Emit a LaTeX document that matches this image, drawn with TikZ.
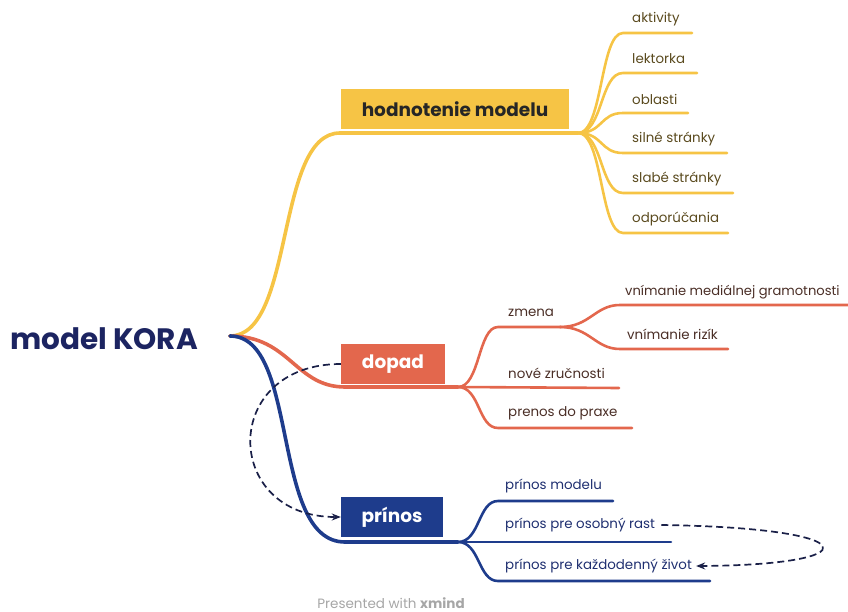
\documentclass[tikz,border=0pt]{standalone}
\usepackage{fontspec}
\setmainfont{Poppins}
\usetikzlibrary{arrows.meta}
\definecolor{ylw}{HTML}{F6C445}
\definecolor{org}{HTML}{E3674D}
\definecolor{nvy}{HTML}{1E3C8C}
\definecolor{rootc}{HTML}{1C2461}
\definecolor{ytext}{HTML}{5A4A1E}
\definecolor{otext}{HTML}{4A2E26}
\definecolor{btext}{HTML}{1F2F70}
\definecolor{dashc}{HTML}{1A2048}
\begin{document}
\begin{tikzpicture}[x=1pt,y=-1pt,
  leaf/.style={anchor=west,inner sep=0pt,yshift=-2pt,font=\fontsize{13.4}{16}\selectfont},
  mainbr/.style={line width=3.6pt,line cap=round},
  leafbr/.style={line width=2.6pt,line cap=round},
  topicbox/.style={inner sep=0pt,minimum height=40pt,font=\fontsize{18.5}{22}\selectfont\bfseries},
  relarrow/.style={dashc,line width=1.7pt,dashed,dash pattern=on 7pt off 4pt,-{Stealth[length=9pt,width=7pt]}}
]
\useasboundingbox (0,0) rectangle (848,612);

% root
\node[text=rootc,font=\fontsize{29.5}{34}\selectfont\bfseries] (root) at (104,339) {model KORA};
\coordinate (r) at (230,336);

% main topic boxes
\node[topicbox,fill=ylw,text=black!85,minimum width=228pt] (hod) at (455,109) {hodnotenie modelu};
\node[topicbox,fill=org,text=white,minimum width=104pt] (dop) at (393,364) {dopad};
\node[topicbox,fill=nvy,text=white,minimum width=102pt] (pri) at (392,517) {prínos};

\coordinate (hy) at (578,133);
\coordinate (oy) at (458,387);
\coordinate (by) at (458,542);

% main branches
\draw[ylw,mainbr] (r) .. controls (295,336) and (275,133) .. (340,133) -- (hy);
\draw[org,mainbr] (r) .. controls (290,336) and (295,387) .. (345,387) -- (oy);
\draw[nvy,mainbr] (r) .. controls (300,336) and (270,542) .. (345,542) -- (by);

% yellow leaves
\node[leaf,text=ytext] (a1) at (632,17) {aktivity};
\node[leaf,text=ytext] (a2) at (632,57) {lektorka};
\node[leaf,text=ytext] (a3) at (632,97) {oblasti};
\node[leaf,text=ytext] (a4) at (632,137) {silné stránky};
\node[leaf,text=ytext] (a5) at (632,177) {slabé stránky};
\node[leaf,text=ytext] (a6) at (632,217) {odporúčania};
\foreach \n/\y/\e in {a1/33/692,a2/73/697,a3/113/688,a4/153/727,a5/193/733,a6/233/728}{
  \coordinate (\n e) at (\e,\y);
  \draw[ylw,leafbr] (hy) .. controls (603,133) and (600,\y) .. (623,\y) -- (\n e);
}

% orange leaves
\node[leaf,text=otext] (zm) at (508,311) {zmena};
\node[leaf,text=otext] (nz) at (508,371) {nové zručnosti};
\node[leaf,text=otext] (pp) at (508,411) {prenos do praxe};
\node[leaf,text=otext,font=\fontsize{13.1}{16}\selectfont] (vm) at (625,290) {vnímanie mediálnej gramotnosti};
\node[leaf,text=otext] (vr) at (627,332) {vnímanie rizík};
\coordinate (zme) at (560,327);
\draw[org,leafbr] (oy) .. controls (480,387) and (478,327) .. (498,327) -- (zme);
\draw[org,leafbr] (oy) -- (619,388);
\draw[org,leafbr] (oy) .. controls (480,387) and (478,428) .. (498,428) -- (632,428);
\draw[org,leafbr] (zme) .. controls (590,327) and (595,305) .. (620,305) -- (848,305);
\draw[org,leafbr] (zme) .. controls (590,327) and (595,349) .. (620,349) -- (728,349);

% blue leaves
\node[leaf,text=btext] (pm) at (505,484) {prínos modelu};
\node[leaf,text=btext] (po) at (505,523) {prínos pre osobný rast};
\node[leaf,text=btext] (pk) at (505,564) {prínos pre každodenný život};
\draw[nvy,leafbr] (by) .. controls (480,542) and (478,501) .. (498,501) -- (613,501);
\draw[nvy,leafbr] (by) -- (671,542);
\draw[nvy,leafbr] (by) .. controls (480,542) and (478,581) .. (498,581) -- (710,581);

% relationships
\draw[relarrow] (dop.west) .. controls (220,364) and (222,517) .. (pri.west);
\draw[relarrow] ([xshift=6pt]po.east) .. controls (870,528) and (870,565) .. ([xshift=4pt]pk.east);

% footer
\node[text=black!35,font=\fontsize{13.5}{16}\selectfont] (foot) at (391,603) {Presented with \textbf{xmind}};
\end{tikzpicture}
\end{document}
